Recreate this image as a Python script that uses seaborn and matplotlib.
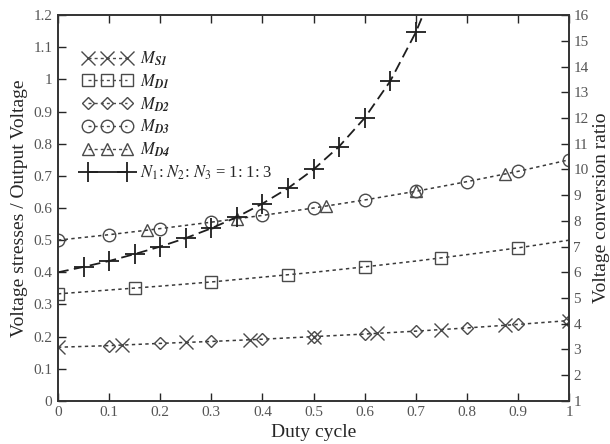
import seaborn as sns
import matplotlib.pyplot as plt
from matplotlib.lines import Line2D
from matplotlib.legend_handler import HandlerLine2D
from matplotlib.ticker import FormatStrFormatter

sns.set_style("ticks")
plt.rcParams["font.family"] = ["Liberation Serif", "DejaVu Serif"]
plt.rcParams["mathtext.fontset"] = "stix"

# dotted curves (left axis), read at duty = 0, 0.1, ..., 1
duty = [0, 0.1, 0.2, 0.3, 0.4, 0.5, 0.6, 0.7, 0.8, 0.9, 1.0]
stress_low = [0.167, 0.172, 0.179, 0.185, 0.192, 0.200, 0.208, 0.217, 0.227, 0.238, 0.250]
stress_mid = [0.333, 0.345, 0.357, 0.370, 0.385, 0.400, 0.417, 0.435, 0.455, 0.476, 0.500]
stress_high = [0.500, 0.517, 0.536, 0.556, 0.577, 0.600, 0.625, 0.652, 0.682, 0.714, 0.750]

# marker positions of each device
ms1_x = [0, 0.125, 0.25, 0.375, 0.5, 0.625, 0.75, 0.875, 1.0]
ms1_y = [0.167, 0.174, 0.182, 0.190, 0.200, 0.211, 0.222, 0.235, 0.250]
md1_x = [0, 0.15, 0.3, 0.45, 0.6, 0.75, 0.9]
md1_y = [0.333, 0.351, 0.370, 0.392, 0.417, 0.444, 0.476]
md2_x = [0.1, 0.2, 0.3, 0.4, 0.5, 0.6, 0.7, 0.8, 0.9, 1.0]
md2_y = [0.172, 0.179, 0.185, 0.192, 0.200, 0.208, 0.217, 0.227, 0.238, 0.250]
md3_x = duty
md3_y = stress_high
md4_x = [0.175, 0.35, 0.525, 0.7, 0.875]
md4_y = [0.531, 0.566, 0.606, 0.652, 0.706]

# conversion ratio (right axis)
gain_line_x = [0, 0.05, 0.1, 0.15, 0.2, 0.25, 0.3, 0.35, 0.4, 0.45, 0.5, 0.55, 0.6, 0.65, 0.7, 0.714]
gain_line_y = [6.0, 6.21, 6.44, 6.71, 7.0, 7.33, 7.71, 8.15, 8.67, 9.27, 10.0, 10.89, 12.0, 13.43, 15.33, 16.0]
gain_x = [0.05, 0.1, 0.15, 0.2, 0.25, 0.3, 0.35, 0.4, 0.45, 0.5, 0.55, 0.6, 0.65, 0.7]
gain_y = [6.21, 6.44, 6.71, 7.0, 7.33, 7.71, 8.15, 8.67, 9.27, 10.0, 10.89, 12.0, 13.43, 15.33]

line_col = "#3a3a3a"
mark_col = "#4a4a4a"
plus_col = "#1e1e1e"
dots = (0, (2.2, 2.2))

fig = plt.figure(figsize=(6.1, 4.44), dpi=100)
ax = fig.add_axes([0.095, 0.097, 0.838, 0.869])
ax2 = ax.twinx()

for ys in [stress_low, stress_mid, stress_high]:
    sns.lineplot(x=duty, y=ys, ax=ax, color=line_col, linestyle=dots, linewidth=1.1)

marker_sets = [
    (ms1_x, ms1_y, "x", 10),
    (md1_x, md1_y, "s", 9),
    (md2_x, md2_y, "D", 6.5),
    (md3_x, md3_y, "o", 9),
    (md4_x, md4_y, "^", 9),
]
for xs, ys, m, s in marker_sets:
    sns.lineplot(x=xs, y=ys, ax=ax, color=mark_col, linestyle="", marker=m,
                 markersize=s, markerfacecolor="none", markeredgecolor=mark_col,
                 markeredgewidth=1.0)

sns.lineplot(x=gain_line_x, y=gain_line_y, ax=ax2, color=plus_col,
             linestyle=(0, (6, 3)), linewidth=1.3)
sns.lineplot(x=gain_x, y=gain_y, ax=ax2, color=plus_col, linestyle="",
             marker="+", markersize=15, markeredgewidth=1.3,
             markeredgecolor=plus_col)

ax.set_xlim(0, 1)
ax.set_ylim(0, 1.2)
ax2.set_ylim(1, 16)
ax.set_xticks([i / 10 for i in range(11)])
ax.set_yticks([i / 10 for i in range(13)])
ax2.set_yticks(list(range(1, 17)))
ax.xaxis.set_major_formatter(FormatStrFormatter("%g"))
ax.yaxis.set_major_formatter(FormatStrFormatter("%g"))

ax.tick_params(direction="in", length=6, width=1, labelsize=11, labelcolor="#555555",
               top=True, pad=4)
ax2.tick_params(direction="in", length=6, width=1, labelsize=11, labelcolor="#555555", pad=3)
for a in (ax, ax2):
    for sp in a.spines.values():
        sp.set_visible(True)
        sp.set_linewidth(1.2)
        sp.set_color("#333333")

ax.set_xlabel("Duty cycle", fontsize=14, labelpad=3)
ax.set_ylabel("Voltage stresses / Output Voltage", fontsize=14, labelpad=4)
ax2.set_ylabel("Voltage conversion ratio", fontsize=14, labelpad=3)

handles = [
    Line2D([], [], color=mark_col, linestyle=dots, lw=1, marker="x", markersize=10, mfc="none"),
    Line2D([], [], color=mark_col, linestyle=dots, lw=1, marker="s", markersize=9, mfc="none"),
    Line2D([], [], color=mark_col, linestyle=dots, lw=1, marker="D", markersize=6.5, mfc="none"),
    Line2D([], [], color=mark_col, linestyle=dots, lw=1, marker="o", markersize=9, mfc="none"),
    Line2D([], [], color=mark_col, linestyle=dots, lw=1, marker="^", markersize=9, mfc="none"),
]
plus_handle = Line2D([], [], color=plus_col, linestyle="-", lw=1.3, marker="+",
                     markersize=15, markeredgewidth=1.3)
handles.append(plus_handle)
labels = [r"$M_{\mathbfit{S1}}$", r"$M_{\mathbfit{D1}}$", r"$M_{\mathbfit{D2}}$",
          r"$M_{\mathbfit{D3}}$", r"$M_{\mathbfit{D4}}$", r"$N_1$: $N_2$: $N_3$ = 1: 1: 3"]
ax2.legend(handles, labels, loc="upper left", bbox_to_anchor=(0.02, 0.95),
           frameon=False, numpoints=3, handlelength=2.9, handletextpad=0.5,
           labelspacing=0.27, fontsize=12,
           handler_map={plus_handle: HandlerLine2D(numpoints=2)})

fig.savefig("out.png", dpi=100)
